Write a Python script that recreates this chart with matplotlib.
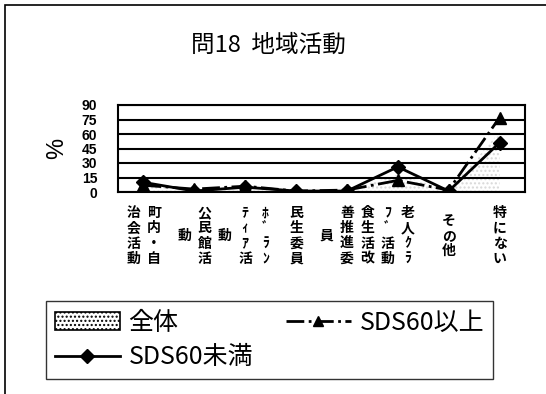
import matplotlib
matplotlib.use('Agg')
import matplotlib.pyplot as plt
from matplotlib.patches import Rectangle, Patch
from matplotlib.lines import Line2D
import numpy as np

plt.rcParams['font.family'] = ['Noto Sans CJK JP', 'DejaVu Sans']
plt.rcParams['hatch.color'] = '#d8d8d8'

# データ
categories = ['町内・自治会活動', '公民館活動', 'ﾎﾞﾗﾝﾃｨｱ活動', '民生委員',
              '食生活改善推進委員', '老人ｸﾗﾌﾞ活動', 'その他', '特にない']
zentai = [8, 1, 5, 1, 2, 18, 2, 62]
sds_over = [7, 3, 6, 1, 2, 12, 2, 77]
sds_under = [10, 1, 5, 1, 1, 26, 1, 51]
yticks = [0, 15, 30, 45, 60, 75, 90]

fig = plt.figure(figsize=(5.46, 3.94), dpi=100)
ax = fig.add_axes([118 / 546, 1 - 192 / 394, 407 / 546, 87 / 394])

x = np.arange(len(categories))

# 全体 (面グラフ、点描)
ax.fill_between(x, 0, zentai, facecolor='white', hatch='....',
                linewidth=0, zorder=1)
ax.plot(x, sds_over, color='black', linestyle='-.', linewidth=2,
        marker='^', markersize=8, zorder=4)
ax.plot(x, sds_under, color='black', linestyle='-', linewidth=2,
        marker='D', markersize=7, zorder=5)

ax.set_xlim(-0.5, len(categories) - 0.5)
ax.set_ylim(0, 90)
ax.set_yticks(yticks)
ax.set_yticklabels([str(v) for v in yticks], fontfamily='Liberation Sans',
                   fontsize=10, fontweight='bold')
ax.tick_params(axis='y', length=0, pad=15)
ax.set_xticks([])
ax.grid(axis='y', color='black', linewidth=1.5, zorder=2)
ax.set_axisbelow(False)
for s in ax.spines.values():
    s.set_linewidth(1.5)

# カテゴリラベル(縦書き、4文字ごとに右から左へ列)
col_gap = 20.5 / 546
for i, lab in enumerate(categories):
    cols = [lab[k:k + 4] for k in range(0, len(lab), 4)]
    n = len(cols)
    xc = fig.transFigure.inverted().transform(ax.transData.transform((i, 0)))[0]
    for j, c in enumerate(cols):
        dx = ((n - 1) / 2 - j) * col_gap
        fig.text(xc + dx, 1 - 236 / 394, '\n'.join(c), ha='center', va='center',
                 fontsize=10, fontweight='bold', linespacing=1.1)

ax.text(-0.15, 0.5, '%', transform=ax.transAxes, rotation=90,
        ha='center', va='center', fontsize=17, fontfamily='Liberation Sans')

fig.text(268 / 546, 1 - 45 / 394, '問18  地域活動', ha='center', va='center',
         fontsize=17)

# 凡例
handles = [
    Patch(facecolor='white', edgecolor='black', hatch='....', linewidth=1.2),
    Line2D([], [], color='black', linewidth=2, marker='D', markersize=7),
    Line2D([], [], color='black', linewidth=2, linestyle='-.', marker='^', markersize=7),
]
labels = ['全体', 'SDS60未満', 'SDS60以上']
leg = fig.legend(handles, labels, ncol=2, loc='upper left',
                 bbox_to_anchor=(46 / 546, 1 - 301 / 394),
                 fontsize=18, frameon=True, fancybox=False,
                 handlelength=2.6, handletextpad=0.35, borderaxespad=0,
                 borderpad=0.35, labelspacing=0.35, columnspacing=1.3,
                 edgecolor='black')
leg.get_frame().set_linewidth(1)

# 外枠
fig.patches.append(Rectangle((5 / 546, -0.1), 1.2, 1.1 - 5 / 394,
                             transform=fig.transFigure, fill=False,
                             edgecolor='black', linewidth=1.2))

fig.savefig('out.png', dpi=100)
